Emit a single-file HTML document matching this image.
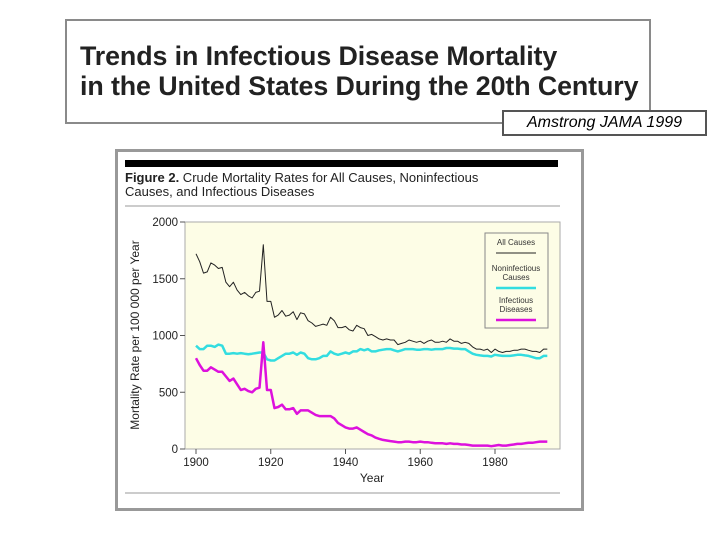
<!DOCTYPE html>
<html><head><meta charset="utf-8"><style>
body{margin:0;width:720px;height:540px;background:#fff;position:relative;overflow:hidden;font-family:"Liberation Sans",sans-serif}
.abs{position:absolute}
</style></head><body>
<div class="abs" style="left:65px;top:19px;width:582px;height:101px;border:2px solid #8a8a8a;"></div>
<div class="abs" style="left:80px;top:41px;font-size:26.8px;font-weight:bold;line-height:30px;color:#222;letter-spacing:-0.1px">Trends in Infectious Disease Mortality<br>in the United States During the 20th Century</div>
<div class="abs" style="left:502px;top:110px;width:201px;height:22px;border:2px solid #555;background:#fff;font-style:italic;font-size:16px;line-height:22px;text-align:center">Amstrong JAMA 1999</div>
<div class="abs" style="left:115px;top:149px;width:463px;height:356px;border:3px solid #999;"></div>
<svg class="abs" style="left:0;top:0" width="720" height="540">
<rect x="125" y="160" width="433" height="7" fill="#000"/>
<text x="125" y="182" font-size="13" fill="#222"><tspan font-weight="bold">Figure 2.</tspan> Crude Mortality Rates for All Causes, Noninfectious</text>
<text x="125" y="196" font-size="13" fill="#222">Causes, and Infectious Diseases</text>
<line x1="125" y1="206" x2="560" y2="206" stroke="#999"/>
<line x1="125" y1="493" x2="560" y2="493" stroke="#999"/>
<rect x="185" y="222" width="375" height="227" fill="#fdfde6" stroke="#aaa"/>
<g id="axes"></g>
<g id="series"></g>
<text transform="translate(139,335) rotate(-90)" text-anchor="middle" font-size="12" fill="#222">Mortality Rate per 100 000 per Year</text>
<text x="372" y="482" text-anchor="middle" font-size="12" fill="#222">Year</text>
<g>
<rect x="485" y="233" width="63" height="95" fill="#fdfde6" stroke="#888"/>
<text x="516" y="245" text-anchor="middle" font-size="8" fill="#333">All Causes</text>
<line x1="496" y1="253" x2="536" y2="253" stroke="#222"/>
<text x="516" y="271" text-anchor="middle" font-size="8" fill="#333">Noninfectious</text>
<text x="516" y="280" text-anchor="middle" font-size="8" fill="#333">Causes</text>
<line x1="496" y1="288" x2="536" y2="288" stroke="#33dde0" stroke-width="2.5"/>
<text x="516" y="303" text-anchor="middle" font-size="8" fill="#333">Infectious</text>
<text x="516" y="312" text-anchor="middle" font-size="8" fill="#333">Diseases</text>
<line x1="496" y1="320" x2="536" y2="320" stroke="#dd11dd" stroke-width="2.5"/>
</g>
</svg>
<script>
const years=[];for(let y=1900;y<=1994;y++)years.push(y);
const allCauses=[1720,1650,1550,1560,1640,1620,1590,1600,1470,1430,1470,1400,1360,1380,1350,1330,1380,1390,1800,1300,1300,1160,1180,1220,1170,1180,1210,1140,1200,1190,1130,1110,1080,1090,1100,1090,1160,1130,1070,1070,1080,1050,1040,1090,1070,1060,1000,1010,990,970,960,970,960,960,920,930,940,960,950,940,950,930,950,960,940,940,950,940,970,950,950,930,940,930,900,880,880,870,880,850,880,860,850,860,860,870,870,880,880,870,860,860,850,880,880];
const nonInfectious=[910,880,880,910,910,900,920,910,840,840,845,840,845,840,835,840,845,850,850,790,780,780,800,820,840,840,850,830,850,840,800,790,790,800,820,820,860,840,830,840,850,840,860,860,880,870,880,860,860,870,875,880,880,870,860,870,880,880,880,875,875,880,880,875,880,880,880,890,890,885,885,880,880,860,840,830,825,820,820,815,830,825,820,820,820,825,830,830,825,820,810,800,800,820,820];
const infectious=[800,740,690,690,720,700,680,680,640,600,620,570,520,530,510,500,530,540,940,520,520,360,370,390,350,350,360,310,340,340,340,320,300,290,290,290,290,270,230,210,190,180,180,190,170,150,130,120,100,90,80,75,70,65,60,60,65,65,60,60,65,60,60,55,50,50,50,45,50,45,45,40,40,35,30,30,30,30,30,25,30,35,30,30,35,40,45,45,50,55,55,60,65,65,65];
const yTicks=[0,500,1000,1500,2000];
const xTicks=[1900,1920,1940,1960,1980];
const X=y=>196+(y-1900)*(299/80);
const Y=v=>449-v*(227/2000);
const NS='http://www.w3.org/2000/svg';
const axes=document.getElementById('axes'),ser=document.getElementById('series');
function mk(tag,attrs,parent){const e=document.createElementNS(NS,tag);for(const k in attrs)e.setAttribute(k,attrs[k]);parent.appendChild(e);return e;}
yTicks.forEach(v=>{const l=mk('line',{x1:180,x2:185,y1:Y(v),y2:Y(v),stroke:'#555'},axes);


const t=mk('text',{x:178,y:Y(v)+4,'text-anchor':'end','font-size':11.5,fill:'#222'},axes);t.textContent=v;

});
xTicks.forEach(v=>{const l=mk('line',{x1:X(v),x2:X(v),y1:449,y2:454,stroke:'#555'},axes);


const t=mk('text',{x:X(v),y:466,'text-anchor':'middle','font-size':11.5,fill:'#222'},axes);t.textContent=v;

});
function line(data,color,w,name){const p=mk('path',{d:data.map((v,i)=>(i?'L':'M')+X(years[i]).toFixed(1)+','+Y(v).toFixed(1)).join(''),fill:'none',stroke:color,'stroke-width':w,'stroke-linejoin':'round'},ser);

}
line(nonInfectious,'#33dde0',2.5,'noninfectious-line');
line(infectious,'#dd11dd',2.5,'infectious-line');
line(allCauses,'#222',1,'all-causes-line');
</script>
</body></html>
